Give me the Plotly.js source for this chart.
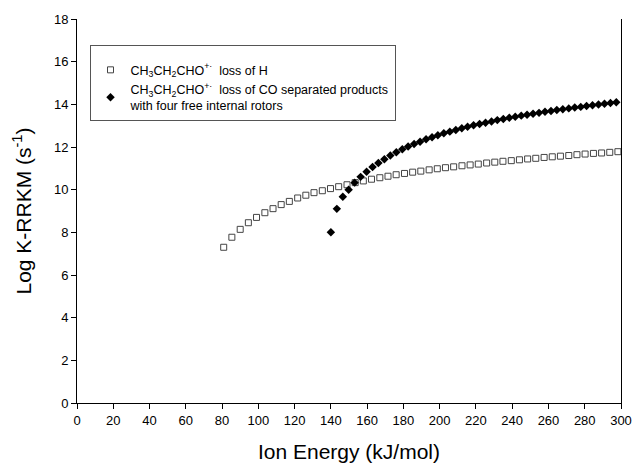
<!DOCTYPE html>
<html>
<head>
<meta charset="utf-8">
<script src="https://cdn.plot.ly/plotly-3.0.1.min.js"></script>
<style>html,body{margin:0;padding:0;background:#fff;}#chart{width:634px;height:468px;}</style>
</head>
<body>
<div id="chart"></div>
<script>
// Series 1: CH3CH2CHO+. loss of H (open squares)
const lossH_x = [80.9, 85.4, 90.0, 94.5, 99.0, 103.6, 108.1, 112.6, 117.1, 121.7, 126.2, 130.7, 135.3, 139.8, 144.3, 148.9, 153.4, 157.9, 162.4, 167.0, 171.5, 176.0, 180.6, 185.1, 189.6, 194.2, 198.7, 203.2, 207.7, 212.3, 216.8, 221.3, 225.9, 230.4, 234.9, 239.5, 244.0, 248.5, 253.0, 257.6, 262.1, 266.6, 271.2, 275.7, 280.2, 284.8, 289.3, 293.8, 298.3];
const lossH_y = [7.30, 7.77, 8.14, 8.45, 8.70, 8.92, 9.11, 9.30, 9.45, 9.61, 9.74, 9.86, 9.95, 10.05, 10.14, 10.23, 10.33, 10.41, 10.49, 10.56, 10.63, 10.70, 10.76, 10.82, 10.87, 10.93, 10.98, 11.03, 11.07, 11.12, 11.16, 11.20, 11.25, 11.29, 11.33, 11.36, 11.40, 11.44, 11.47, 11.51, 11.54, 11.57, 11.60, 11.64, 11.67, 11.70, 11.72, 11.75, 11.78];

// Series 2: CH3CH2CHO+. loss of CO, separated products with four free internal rotors (filled diamonds)
const lossCO_x = [140.0, 143.3, 146.6, 149.8, 153.1, 156.4, 159.7, 163.0, 166.2, 169.5, 172.8, 176.1, 179.4, 182.6, 185.9, 189.2, 192.5, 195.8, 199.0, 202.3, 205.6, 208.9, 212.2, 215.4, 218.7, 222.0, 225.3, 228.6, 231.8, 235.1, 238.4, 241.7, 245.0, 248.2, 251.5, 254.8, 258.1, 261.4, 264.6, 267.9, 271.2, 274.5, 277.8, 281.0, 284.3, 287.6, 290.9, 294.2, 297.4];
const lossCO_y = [8.00, 9.10, 9.67, 10.00, 10.33, 10.60, 10.84, 11.06, 11.25, 11.43, 11.60, 11.75, 11.89, 12.02, 12.14, 12.25, 12.36, 12.46, 12.55, 12.64, 12.72, 12.80, 12.88, 12.95, 13.02, 13.08, 13.14, 13.20, 13.26, 13.31, 13.37, 13.42, 13.47, 13.51, 13.56, 13.60, 13.65, 13.69, 13.73, 13.77, 13.81, 13.85, 13.88, 13.92, 13.96, 13.99, 14.03, 14.06, 14.10];

const seriesNames = [
  "CH<sub>3</sub>CH<sub>2</sub>CHO<sup>+·</sup>  loss of H",
  "CH<sub>3</sub>CH<sub>2</sub>CHO<sup>+·</sup>  loss of CO separated products<br>with four free internal rotors"
];
const xTicks = [0, 20, 40, 60, 80, 100, 120, 140, 160, 180, 200, 220, 240, 260, 280, 300];
const yTicks = [0, 2, 4, 6, 8, 10, 12, 14, 16, 18];

const FONT = "'Liberation Sans', Arial, sans-serif";

const traces = [
  {
    x: lossH_x, y: lossH_y, name: seriesNames[0], type: 'scatter', mode: 'markers',
    marker: {symbol: 'square-open', size: 6, color: '#444', line: {width: 1, color: '#444'}}
  },
  {
    x: lossCO_x, y: lossCO_y, name: seriesNames[1], type: 'scatter', mode: 'markers',
    marker: {symbol: 'diamond', size: 6.5, color: '#000'}
  }
];

const layout = {
  width: 634, height: 468,
  margin: {l: 77, r: 13, t: 19, b: 65},
  paper_bgcolor: '#fff', plot_bgcolor: '#fff',
  font: {family: FONT, color: '#000', size: 12},
  showlegend: true,
  legend: {
    x: 0.023, y: 0.932, xanchor: 'left', yanchor: 'top',
    bordercolor: '#555', borderwidth: 1, bgcolor: '#fff',
    font: {family: FONT, size: 12.5, color: '#000'},
    title: {text: ' ', font: {size: 7}},
    tracegroupgap: 12, itemwidth: 30, entrywidth: 287, entrywidthmode: 'pixels'
  },
  xaxis: {
    range: [0, 300], tickvals: xTicks, ticktext: xTicks.map(String),
    showgrid: false, zeroline: false, showline: true, linecolor: '#000', linewidth: 1,
    ticks: 'outside', ticklen: 5, tickcolor: '#000', tickfont: {size: 13},
    title: {text: 'Ion Energy (kJ/mol)', font: {size: 21}, standoff: 17}
  },
  yaxis: {
    range: [0, 18], tickvals: yTicks, ticktext: yTicks.map(String),
    showgrid: false, zeroline: false, showline: true, mirror: true, linecolor: '#000', linewidth: 1,
    ticks: 'outside', ticklen: 5, tickcolor: '#000', tickfont: {size: 13},
    title: {text: 'Log K-RRKM (s<sup>-1</sup>)', font: {size: 21}, standoff: 16}
  }
};

Plotly.newPlot('chart', traces, layout, {staticPlot: true, displayModeBar: false});
</script>
</body>
</html>
